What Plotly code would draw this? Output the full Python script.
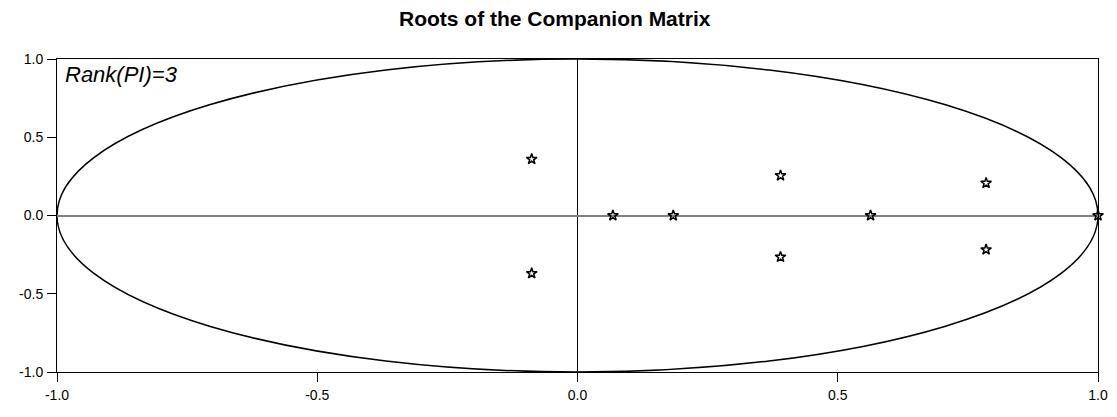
import plotly.graph_objects as go

# Roots of the companion matrix (real and imaginary parts)
root_real = [-0.088, -0.088, 0.068, 0.184, 0.390, 0.390, 0.563, 0.785, 0.785, 1.0]
root_imag = [0.36, -0.37, 0.0, 0.0, 0.255, -0.265, 0.0, 0.207, -0.218, 0.0]

title_text = "Roots of the Companion Matrix"
rank_text = "Rank(PI)=3"
tick_vals = [-1.0, -0.5, 0.0, 0.5, 1.0]
tick_text = ["-1.0", "-0.5", "0.0", "0.5", "1.0"]

fig = go.Figure()

fig.add_trace(go.Scatter(
    x=root_real, y=root_imag,
    mode='markers',
    marker=dict(symbol='star-open', size=8, color='black', line=dict(width=1.5, color='black')),
    cliponaxis=False,
    showlegend=False
))

# Unit circle
fig.add_shape(type='circle', xref='x', yref='y', x0=-1, y0=-1, x1=1, y1=1,
              line=dict(color='black', width=1.5), layer='below')

axis_common = dict(
    tickvals=tick_vals,
    ticktext=tick_text,
    ticks='outside',
    ticklen=9,
    tickcolor='black',
    showgrid=False,
    showline=True,
    linecolor='black',
    linewidth=1,
    mirror=True,
    range=[-1, 1],
    automargin=False,
    tickfont=dict(family='Liberation Sans, Arial', size=14, color='black'),
)

fig.update_xaxes(**axis_common, zeroline=True, zerolinecolor='black', zerolinewidth=1,
                 ticklabelstandoff=1)
fig.update_yaxes(**axis_common, zeroline=True, zerolinecolor='#808080', zerolinewidth=1.5,
                 ticklabelstandoff=1)

fig.add_annotation(
    text=f"<i>{rank_text}</i>",
    xref='paper', yref='paper', x=0.0, y=1.0,
    xanchor='left', yanchor='top', showarrow=False,
    xshift=6, yshift=-1,
    font=dict(family='Liberation Sans, Arial', size=22, color='black')
)

# page body adds an 8px offset, so the figure is sized to fit the window
fig.update_layout(
    title=dict(text=f"<b>{title_text}</b>", x=0.493, xanchor='center', y=1.0, yanchor='top',
               pad=dict(t=3),
               font=dict(family='Liberation Sans, Arial', size=21, color='black')),
    width=1109, height=409,
    margin=dict(l=49, r=19, t=51, b=45, autoexpand=False),
    plot_bgcolor='white',
    paper_bgcolor='white',
)

fig.write_html("out.html")
